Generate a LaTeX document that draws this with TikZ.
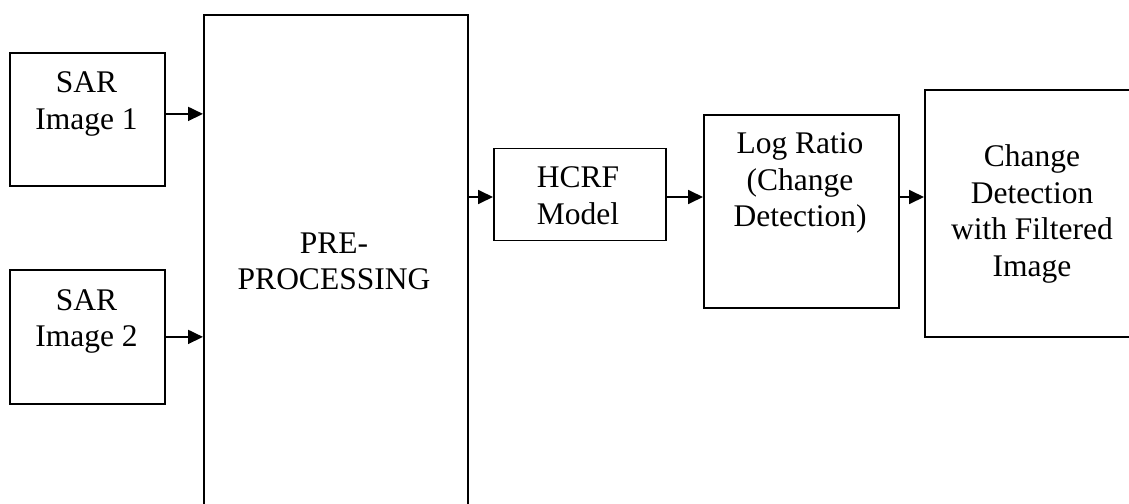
\documentclass[tikz,border=0pt]{standalone}
\usepackage{fontspec}
\setmainfont{Liberation Serif}
\usetikzlibrary{arrows.meta}
\begin{document}
\begin{tikzpicture}[x=1pt, y=-1pt,
  block/.style={draw=black, line width=1.8pt, inner sep=0pt, anchor=north west},
  caption/.style={anchor=north, inner sep=0pt, align=center,
                  font=\fontsize{31.5}{36.5}\selectfont},
  flow/.style={line width=1.8pt, -{Triangle[length=15pt,width=14pt]}}]

% page frame; the large boxes run past its edges
\path[use as bounding box, clip] (0,0) rectangle (1129,503);

% blocks
\node[block, minimum width=155pt, minimum height=133pt] (sar1) at (9,52) {};
\node[block, minimum width=155pt, minimum height=134pt] (sar2) at (9,269) {};
\node[block, minimum width=264pt, minimum height=500pt] (pre)  at (203,14) {};
\node[block, minimum width=172pt, minimum height=92pt]  (hcrf) at (493,147.5) {};
\node[block, minimum width=195pt, minimum height=193pt] (lr)   at (703,114) {};
\node[block, minimum width=220pt, minimum height=247pt] (cd)   at (924,89) {};

% block texts
\node[caption] (sar1t) at (86.5,71.5) {SAR\\Image 1};
\node[caption] (sar2t) at (86.5,289) {SAR\\Image 2};
\node[caption] (pret)  at (334,232.5) {PRE-\\PROCESSING};
\node[caption] (hcrft) at (578,166.5) {HCRF\\Model};
\node[caption] (lrt)   at (800,132.5) {Log Ratio\\(Change\\Detection)};
\node[caption] (cdt)   at (1032,144.5) {Change\\Detection\\with Filtered\\Image};

% connectors
\coordinate (row) at (0,197);
\draw[flow] ([yshift=5.5pt]sar1.east) -- ([yshift=5.5pt]sar1.east -| pre.west);
\draw[flow] (sar2.east) -- (sar2.east -| pre.west);
\draw[flow] (row -| pre.east)  -- (row -| hcrf.west);
\draw[flow] (row -| hcrf.east) -- (row -| lr.west);
\draw[flow] (row -| lr.east)   -- (row -| cd.west);
\end{tikzpicture}
\end{document}
